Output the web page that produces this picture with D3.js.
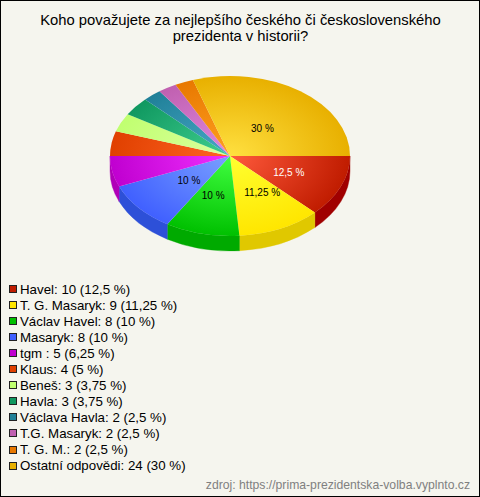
<!DOCTYPE html>
<html><head><meta charset="utf-8">
<style>html,body{margin:0;padding:0;background:#f5f5ee}svg{display:block}text{font-family:"Liberation Sans",Arial,sans-serif}</style>
<script src="https://cdn.jsdelivr.net/npm/d3@7"></script>
</head><body><svg id="c" width="480" height="497"></svg>
<script>
const titleLines = ["Koho považujete za nejlepšího českého či československého","prezidenta v historii?"];
const names = ["Havel","T. G. Masaryk","Václav Havel","Masaryk","tgm ","Klaus","Beneš","Havla","Václava Havla","T.G. Masaryk","T. G. M.","Ostatní odpovědi"];
const values = [10,9,8,8,5,4,3,3,2,2,2,24];
const percents = ["12,5","11,25","10","10","6,25","5","3,75","3,75","2,5","2,5","2,5","30"];
const innerColors = ["#ff5a3c","#ffff30","#40ff40","#7aa0ff","#f030ff","#ff6424","#dcffa0","#40d090","#48a8c8","#e088e0","#ffa020","#ffe040"];
const outerColors = ["#c01c00","#ffe600","#00c000","#4060ff","#c000d0","#e04000","#c0ff70","#109860","#208098","#c060b0","#e87800","#e8b000"];
const sideColors = ["#a00000","#e0c800","#00aa00","#2d50d8","#b000b8","#c03000","#a0d860","#0c8050","#186880","#a050a0","#c86000","#c89800"];

const svg = d3.select("#c");
const W=480,H=497,cx=230,cy=156,rx=120,ry=80,depth=15;
svg.append("rect").attr("width",W).attr("height",H).attr("fill","#f5f5ee");
svg.append("rect").attr("x",.5).attr("y",.5).attr("width",W-1).attr("height",H-1).attr("fill","none").attr("stroke","#000");

svg.selectAll("text.title").data(titleLines).join("text").attr("class","title")
  .attr("x",240.5).attr("y",(d,i)=>24.5+i*16).attr("text-anchor","middle")
  .attr("font-size",14.8).attr("fill","#000").text(d=>d);

const pie = d3.pie().sort(null).startAngle(Math.PI/2).endAngle(Math.PI*2.5);
const arcs = pie(values);
const defs = svg.append("defs");
arcs.forEach((a,i)=>{
  const g = defs.append("radialGradient").attr("id","g"+i).attr("gradientUnits","userSpaceOnUse")
    .attr("cx",0).attr("cy",0).attr("r",rx);
  g.append("stop").attr("offset",0).attr("stop-color",innerColors[i]);
  g.append("stop").attr("offset",1).attr("stop-color",outerColors[i]);
});
const ex = a=>rx*Math.sin(a), ey = a=>-ry*Math.cos(a);
const wall = svg.append("g").attr("transform",`translate(${cx},${cy})`);
arcs.forEach((a,i)=>{
  const s=Math.max(a.startAngle,Math.PI/2), e=Math.min(a.endAngle,Math.PI*1.5);
  if(e<=s) return;
  const d=`M${ex(s)},${ey(s)}A${rx},${ry} 0 0 1 ${ex(e)},${ey(e)}L${ex(e)},${ey(e)+depth}A${rx},${ry} 0 0 0 ${ex(s)},${ey(s)+depth}Z`;
  wall.append("path").attr("d",d).attr("fill",sideColors[i]).attr("stroke",sideColors[i]).attr("stroke-width",.4);
});
const arc = d3.arc().innerRadius(0).outerRadius(rx);
const faces = svg.append("g").attr("transform",`translate(${cx},${cy}) scale(1,${ry/rx})`);
faces.selectAll("path").data(arcs).join("path").attr("d",arc).attr("fill",(d,i)=>`url(#g${i})`);

// how far along each slice's mid-angle its label sits (horizontal, vertical)
const labelAlong = new Map([[0,[.53,.55]],[1,[.64,.5]],[2,[.6,.51]],[3,[.45,.47]],[11,[.46,.42]]]);
const lab = svg.append("g").attr("transform",`translate(${cx},${cy})`);
labelAlong.forEach(([fx,fy],i)=>{
  const a=arcs[i], m=(a.startAngle+a.endAngle)/2;
  lab.append("text").attr("x",fx*ex(m)).attr("y",fy*ey(m)+3.5).attr("text-anchor","middle")
    .attr("font-size",10).attr("fill",i===0?"#fff":"#000").text(percents[i]+" %");
});

const leg = svg.append("g");
const rowY = d3.scaleLinear().domain([0,11]).range([289,465.6]);
names.forEach((n,i)=>{
  const y=rowY(i);
  leg.append("rect").attr("x",9.5).attr("y",Math.floor(y-3.5)+.5).attr("width",7).attr("height",7)
    .attr("fill",outerColors[i]).attr("stroke","#222");
  leg.append("text").attr("x",20).attr("y",y+4.5).attr("font-size",13.3).attr("fill","#000")
    .text(`${n}: ${values[i]} (${percents[i]} %)`);
});
svg.append("text").attr("x",470).attr("y",489).attr("text-anchor","end").attr("font-size",12.2).attr("fill","#808080")
  .text("zdroj: https://prima-prezidentska-volba.vyplnto.cz");
</script></body></html>
